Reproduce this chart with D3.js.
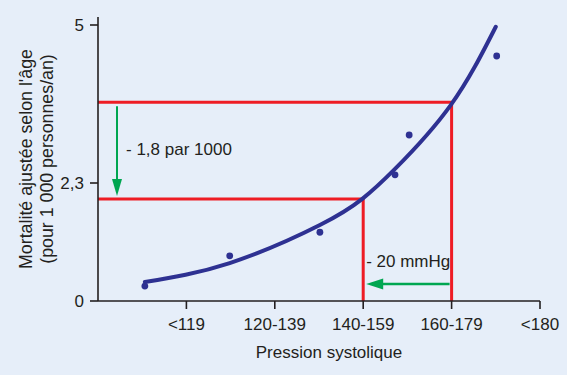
<!DOCTYPE html>
<html>
<head>
<meta charset="utf-8">
<script src="https://d3js.org/d3.v7.min.js"></script>
<style>
  body { margin: 0; background: #e6eef9; }
  text { font-family: "Liberation Sans", Arial, sans-serif; fill: #231f20; }
</style>
</head>
<body>
<script>

// category labels on the x axis (positions 1..5)
var categories = ["<119", "120-139", "140-159", "160-179", "<180"];
var catPos = [1, 2, 3, 4, 5];

// y ticks
var yTicks = [0, 2.3, 5];
var yTickLabels = ["0", "2,3", "5"];

// observed points
var pointX = [0.53, 1.49, 2.51, 3.36, 3.52, 4.51];
var pointY = [0.29, 0.88, 1.34, 2.44, 3.12, 4.47];

// fitted curve
var curveX = [0.53, 1.49, 2.51, 2.99, 3.36, 3.99, 4.50];
var curveY = [0.37, 0.74, 1.48, 1.99, 2.54, 3.63, 4.97];

// reference lines: category position and mortality value
var refX = [4, 3];
var refY = [3.68, 1.99];

var width = 567, height = 375;

var svg = d3.select("body").append("svg")
    .attr("width", width).attr("height", height);

var x = d3.scaleLinear().domain([0, 5]).range([98, 540]);
// schematic axis: the 2,3 tick is not to scale
var y = d3.scaleLinear().domain([0, 2.3, 5]).range([301, 183, 25]);

var red = "#ee1c25", green = "#00a651", blue = "#2e3192", ink = "#231f20";

// red guide lines
refX.forEach(function(cx, i) {
  svg.append("path")
      .attr("d", "M" + x(0) + "," + y(refY[i]) + "H" + x(cx) + "V" + y(0))
      .attr("fill", "none").attr("stroke", red).attr("stroke-width", 3);
});

// axes
var xAxis = svg.append("g").attr("transform", "translate(0," + y(0) + ")");
xAxis.append("line").attr("x1", x(0)).attr("x2", x(5)).attr("stroke", ink).attr("stroke-width", 1.6);
xAxis.selectAll(".tick").data(catPos).enter().append("line")
    .attr("x1", d => x(d)).attr("x2", d => x(d)).attr("y1", 0).attr("y2", 8)
    .attr("stroke", ink).attr("stroke-width", 1.6);
xAxis.selectAll(".lbl").data(categories).enter().append("text")
    .attr("x", (d, i) => x(catPos[i])).attr("y", 29)
    .attr("text-anchor", "middle").style("font-size", "17px")
    .text(d => d);

var yAxis = svg.append("g").attr("transform", "translate(" + x(0) + ",0)");
yAxis.append("line").attr("y1", 17).attr("y2", y(0)).attr("stroke", ink).attr("stroke-width", 1.6);
yAxis.selectAll(".tick").data(yTicks).enter().append("line")
    .attr("x1", -8).attr("x2", 0).attr("y1", d => y(d)).attr("y2", d => y(d))
    .attr("stroke", ink).attr("stroke-width", 1.6);
yAxis.selectAll(".lbl").data(yTicks).enter().append("text")
    .attr("x", -14).attr("y", d => y(d)).attr("dy", "0.35em")
    .attr("text-anchor", "end").style("font-size", "17px")
    .text((d, i) => yTickLabels[i]);

// axis titles
svg.append("text").attr("x", 329).attr("y", 358).attr("text-anchor", "middle")
    .style("font-size", "17px").text("Pression systolique");
var yt = svg.append("text").attr("transform", "translate(32,159) rotate(-90)")
    .attr("text-anchor", "middle").style("font-size", "17.8px");
yt.append("tspan").attr("x", 0).attr("y", 0).text("Mortalité ajustée selon l'âge");
yt.append("tspan").attr("x", 0).attr("y", 21).text("(pour 1 000 personnes/an)");

// curve and points
var line = d3.line().x(d => x(d[0])).y(d => y(d[1])).curve(d3.curveNatural);
svg.append("path").datum(d3.zip(curveX, curveY))
    .attr("d", line).attr("fill", "none")
    .attr("stroke", blue).attr("stroke-width", 4).attr("stroke-linecap", "round");
svg.selectAll(".pt").data(d3.zip(pointX, pointY)).enter().append("circle")
    .attr("cx", d => x(d[0])).attr("cy", d => y(d[1])).attr("r", 3.4)
    .attr("fill", blue);

// green arrows
var ax = x(0) + 19;
svg.append("line").attr("x1", ax).attr("x2", ax)
    .attr("y1", y(refY[0]) + 4).attr("y2", y(refY[1]) - 18)
    .attr("stroke", green).attr("stroke-width", 2);
svg.append("path")
    .attr("d", "M" + (ax - 5) + "," + (y(refY[1]) - 20) + "L" + (ax + 5) + "," + (y(refY[1]) - 20) +
         "L" + ax + "," + (y(refY[1]) - 3) + "Z")
    .attr("fill", green);
svg.append("text").attr("x", ax + 9).attr("y", 155).style("font-size", "17px").text("- 1,8 par 1000");

var ay = y(0) - 17;
svg.append("line").attr("x1", x(refX[0]) - 2).attr("x2", x(refX[1]) + 18)
    .attr("y1", ay).attr("y2", ay)
    .attr("stroke", green).attr("stroke-width", 2.6);
svg.append("path")
    .attr("d", "M" + (x(refX[1]) + 20) + "," + (ay - 5.5) + "L" + (x(refX[1]) + 20) + "," + (ay + 5.5) +
         "L" + (x(refX[1]) + 3) + "," + ay + "Z")
    .attr("fill", green);
svg.append("text").attr("x", x(refX[1]) + 3).attr("y", 267).style("font-size", "17px").text("- 20 mmHg");

</script>
</body>
</html>
